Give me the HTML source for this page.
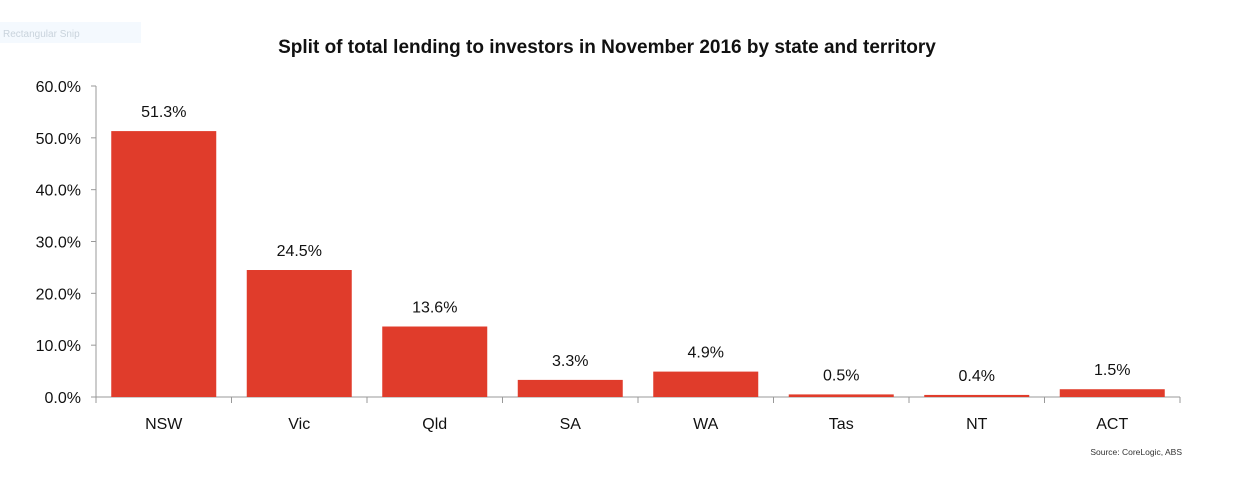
<!DOCTYPE html>
<html><head><meta charset="utf-8"><style>
body{margin:0;background:#fff;font-family:"Liberation Sans",sans-serif}
</style></head><body>
<svg id="c" width="1234" height="477" xmlns="http://www.w3.org/2000/svg">
<rect x="0" y="22" width="141" height="21" fill="#f4f9fe"/>
<text x="3" y="37" font-size="10" fill="#c9d3dc">Rectangular Snip</text>
<text x="607" y="53" text-anchor="middle" font-size="19" font-weight="bold" fill="#111">Split of total lending to investors in November 2016 by state and territory</text>
<text x="1182" y="455" text-anchor="end" font-size="8.5" fill="#333">Source: CoreLogic, ABS</text>
<g id="g"></g>
</svg>
<script>
const categories=["NSW","Vic","Qld","SA","WA","Tas","NT","ACT"];
const values=[51.3,24.5,13.6,3.3,4.9,0.5,0.4,1.5];
const yTicks=[0,10,20,30,40,50,60];
const ns="http://www.w3.org/2000/svg";
const g=document.getElementById('g');
const x0=96,x1=1180,yBase=397,yTop=86,yMax=60;
const band=(x1-x0)/categories.length,bw=105;
const y=v=>yBase-(v/yMax)*(yBase-yTop);
function mk(t,a,txt){const e=document.createElementNS(ns,t);for(const k in a)e.setAttribute(k,a[k]);if(txt!==undefined)e.textContent=txt;g.appendChild(e);return e;}
let e=mk('line',{x1:x0,y1:yTop,x2:x0,y2:yBase,stroke:'#999','stroke-width':1});

e=mk('line',{x1:x0,y1:yBase,x2:x1,y2:yBase,stroke:'#999','stroke-width':1});

yTicks.forEach(t=>{
 let l=mk('line',{x1:x0-5,y1:y(t),x2:x0,y2:y(t),stroke:'#999'});
 
 let tx=mk('text',{x:x0-15,y:y(t)+6,'text-anchor':'end','font-size':16,fill:'#111'},t.toFixed(1)+'%');
 
});
for(let i=0;i<=categories.length;i++){
 let l=mk('line',{x1:x0+i*band,y1:yBase,x2:x0+i*band,y2:yBase+6,stroke:'#999'});
 
}
categories.forEach((c,i)=>{
 const cx=x0+band*(i+0.5),v=values[i];
 let r=mk('rect',{x:cx-bw/2,y:y(v),width:bw,height:yBase-y(v),fill:'#e03c2b'});
 
 let vl=mk('text',{x:cx,y:y(v)-14,'text-anchor':'middle','font-size':16,fill:'#111'},v.toFixed(1)+'%');
 
 let cl=mk('text',{x:cx,y:yBase+32,'text-anchor':'middle','font-size':16,fill:'#111'},c);
 
});
</script>
</body></html>
